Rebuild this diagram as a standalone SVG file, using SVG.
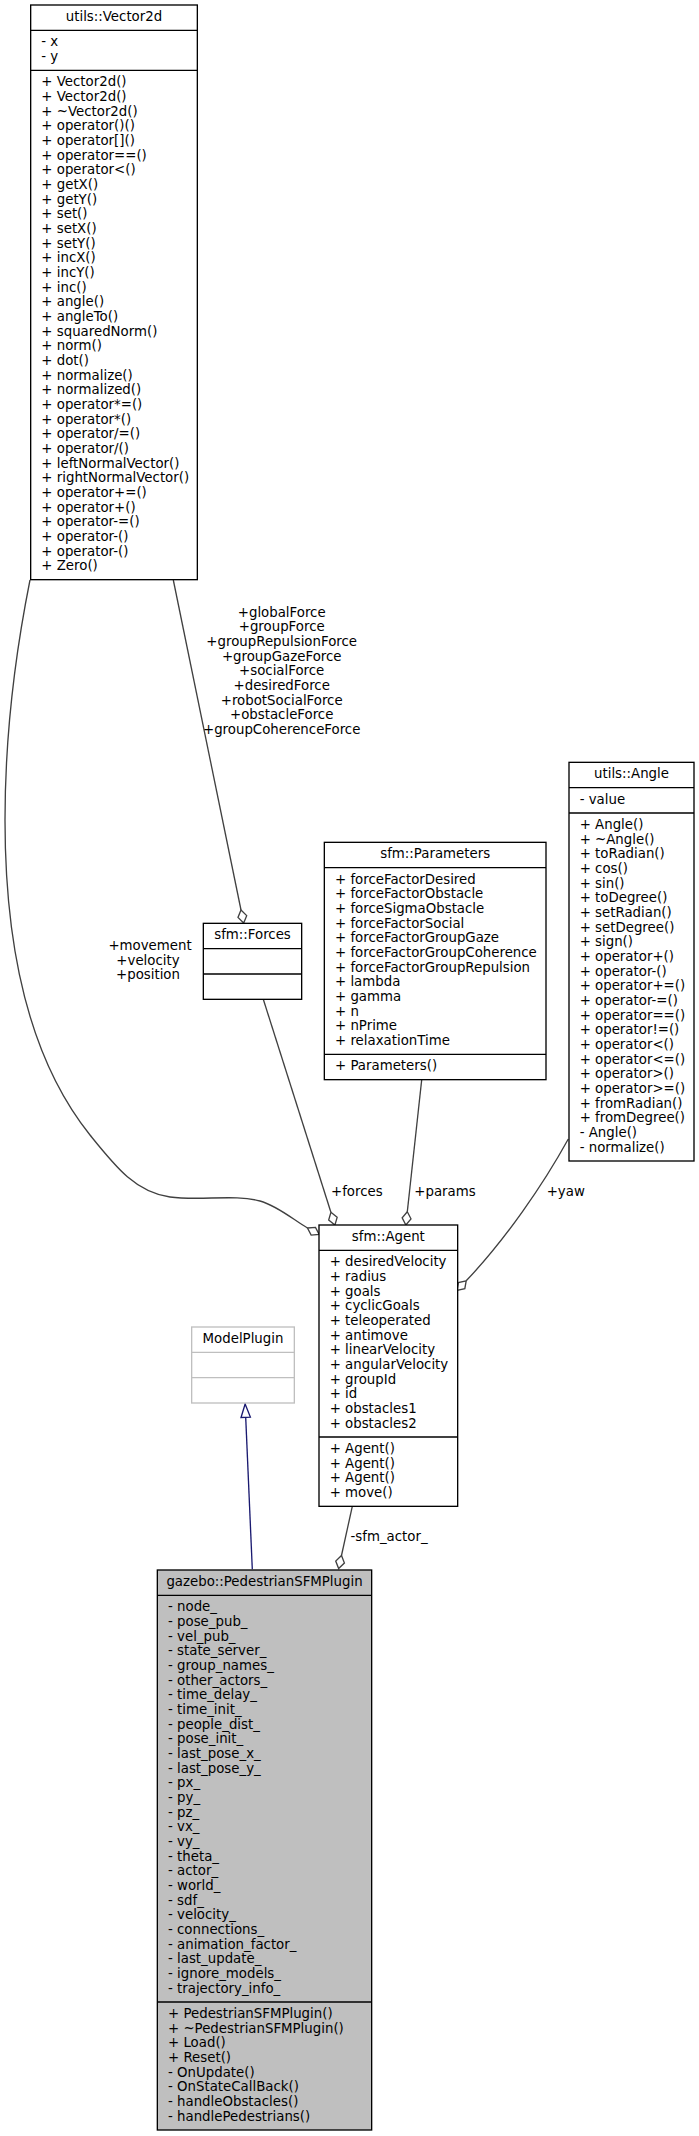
<svg xmlns="http://www.w3.org/2000/svg" width="699" height="2136" viewBox="0 0 699 2136">
<defs>
<style>
text{font-family:"DejaVu Sans","Liberation Sans",sans-serif;font-size:13.33px;fill:#000}
.t{text-anchor:middle}
.l{text-anchor:middle}
.box{fill:#fff;stroke:#000;stroke-width:1.33}
.gbox{fill:#fff;stroke:#bfbfbf;stroke-width:1.33}
.fbox{fill:#bfbfbf;stroke:#000;stroke-width:1.33}
.sep{stroke:#000;stroke-width:1.33}
.gsep{stroke:#bfbfbf;stroke-width:1.33}
.e{fill:none;stroke:#404040;stroke-width:1.33;marker-end:url(#od)}
.inh{fill:none;stroke:#191970;stroke-width:1.33;marker-end:url(#tri)}
</style>
<marker id="od" markerUnits="userSpaceOnUse" markerWidth="20" markerHeight="20" refX="0" refY="0" orient="auto" overflow="visible">
<path d="M0,0 L6.67,-4.44 L13.33,0 L6.67,4.44 Z" fill="#fff" stroke="#404040" stroke-width="1.33"/>
</marker>
<marker id="tri" markerUnits="userSpaceOnUse" markerWidth="20" markerHeight="20" refX="0" refY="0" orient="auto" overflow="visible">
<path d="M0,-4.67 L13.33,0 L0,4.67 Z" fill="#fff" stroke="#191970" stroke-width="1.33"/>
</marker>
</defs>
<rect width="699" height="2136" fill="#fff"/>

<g id="connectors">
<path class="e" d="M173.3,580 L241,910"/>
<path class="e" d="M263.3,999.3 L330.9,1212.3"/>
<path class="e" d="M421.7,1079.7 L407.3,1211.7"/>
<path class="e" d="M30,580 C18,640 5,720 5,820 C5,950 30,1060 90,1135 C115,1166 135,1192 170,1197 C200,1201 235,1194 260,1201 C278,1206 295,1221 307.5,1228"/>
<path class="e" d="M568.3,1139 C543,1185 505,1240 466.2,1280.8"/>
<path class="e" d="M352.3,1506.3 L341.5,1555.5"/>
<path class="inh" d="M252.3,1569.3 L245.7,1417.3"/>
<text class="l" x="281.7"><tspan x="281.7" y="616.7">+globalForce</tspan><tspan x="281.7" dy="14.67">+groupForce</tspan><tspan x="281.7" dy="14.67">+groupRepulsionForce</tspan><tspan x="281.7" dy="14.67">+groupGazeForce</tspan><tspan x="281.7" dy="14.67">+socialForce</tspan><tspan x="281.7" dy="14.67">+desiredForce</tspan><tspan x="281.7" dy="14.67">+robotSocialForce</tspan><tspan x="281.7" dy="14.67">+obstacleForce</tspan><tspan x="281.7" dy="14.67">+groupCoherenceForce</tspan></text>
<text class="l"><tspan x="150" y="950">+movement</tspan><tspan x="148" dy="14.67">+velocity</tspan><tspan x="148" dy="14.67">+position</tspan></text>
<text x="331" y="1196">+forces</text>
<text x="414.3" y="1196">+params</text>
<text x="546.7" y="1196">+yaw</text>
<text x="350.5" y="1540.5">-sfm_actor_</text>
</g>

<g id="node-vector2d">
<rect class="box" x="30.67" y="5" width="166.67" height="574.67"/>
<line class="sep" x1="30.67" y1="30.33" x2="197.33" y2="30.33"/>
<line class="sep" x1="30.67" y1="70.33" x2="197.33" y2="70.33"/>
<text class="t" x="114" y="21">utils::Vector2d</text>
<text><tspan x="41.33" y="46.33">- x</tspan><tspan x="41.33" dy="14.67">- y</tspan></text>
<text><tspan x="41.33" y="86.33">+ Vector2d()</tspan><tspan x="41.33" dy="14.67">+ Vector2d()</tspan><tspan x="41.33" dy="14.67">+ ~Vector2d()</tspan><tspan x="41.33" dy="14.67">+ operator()()</tspan><tspan x="41.33" dy="14.67">+ operator[]()</tspan><tspan x="41.33" dy="14.67">+ operator==()</tspan><tspan x="41.33" dy="14.67">+ operator&lt;()</tspan><tspan x="41.33" dy="14.67">+ getX()</tspan><tspan x="41.33" dy="14.67">+ getY()</tspan><tspan x="41.33" dy="14.67">+ set()</tspan><tspan x="41.33" dy="14.67">+ setX()</tspan><tspan x="41.33" dy="14.67">+ setY()</tspan><tspan x="41.33" dy="14.67">+ incX()</tspan><tspan x="41.33" dy="14.67">+ incY()</tspan><tspan x="41.33" dy="14.67">+ inc()</tspan><tspan x="41.33" dy="14.67">+ angle()</tspan><tspan x="41.33" dy="14.67">+ angleTo()</tspan><tspan x="41.33" dy="14.67">+ squaredNorm()</tspan><tspan x="41.33" dy="14.67">+ norm()</tspan><tspan x="41.33" dy="14.67">+ dot()</tspan><tspan x="41.33" dy="14.67">+ normalize()</tspan><tspan x="41.33" dy="14.67">+ normalized()</tspan><tspan x="41.33" dy="14.67">+ operator*=()</tspan><tspan x="41.33" dy="14.67">+ operator*()</tspan><tspan x="41.33" dy="14.67">+ operator/=()</tspan><tspan x="41.33" dy="14.67">+ operator/()</tspan><tspan x="41.33" dy="14.67">+ leftNormalVector()</tspan><tspan x="41.33" dy="14.67">+ rightNormalVector()</tspan><tspan x="41.33" dy="14.67">+ operator+=()</tspan><tspan x="41.33" dy="14.67">+ operator+()</tspan><tspan x="41.33" dy="14.67">+ operator-=()</tspan><tspan x="41.33" dy="14.67">+ operator-()</tspan><tspan x="41.33" dy="14.67">+ operator-()</tspan><tspan x="41.33" dy="14.67">+ Zero()</tspan></text>
</g>

<g id="node-forces">
<rect class="box" x="203.33" y="923.33" width="98.33" height="76"/>
<line class="sep" x1="203.33" y1="948.67" x2="301.67" y2="948.67"/>
<line class="sep" x1="203.33" y1="974" x2="301.67" y2="974"/>
<text class="t" x="252.5" y="939.33">sfm::Forces</text>
</g>

<g id="node-parameters">
<rect class="box" x="324.33" y="842.33" width="221.67" height="237.33"/>
<line class="sep" x1="324.33" y1="867.67" x2="546" y2="867.67"/>
<line class="sep" x1="324.33" y1="1054.33" x2="546" y2="1054.33"/>
<text class="t" x="435.17" y="858.33">sfm::Parameters</text>
<text><tspan x="335" y="883.67">+ forceFactorDesired</tspan><tspan x="335" dy="14.67">+ forceFactorObstacle</tspan><tspan x="335" dy="14.67">+ forceSigmaObstacle</tspan><tspan x="335" dy="14.67">+ forceFactorSocial</tspan><tspan x="335" dy="14.67">+ forceFactorGroupGaze</tspan><tspan x="335" dy="14.67">+ forceFactorGroupCoherence</tspan><tspan x="335" dy="14.67">+ forceFactorGroupRepulsion</tspan><tspan x="335" dy="14.67">+ lambda</tspan><tspan x="335" dy="14.67">+ gamma</tspan><tspan x="335" dy="14.67">+ n</tspan><tspan x="335" dy="14.67">+ nPrime</tspan><tspan x="335" dy="14.67">+ relaxationTime</tspan></text>
<text x="335" y="1070.33">+ Parameters()</text>
</g>

<g id="node-angle">
<rect class="box" x="569" y="762.33" width="125" height="398.67"/>
<line class="sep" x1="569" y1="787.67" x2="694" y2="787.67"/>
<line class="sep" x1="569" y1="813" x2="694" y2="813"/>
<text class="t" x="631.5" y="778.33">utils::Angle</text>
<text x="579.67" y="803.67">- value</text>
<text><tspan x="579.67" y="829">+ Angle()</tspan><tspan x="579.67" dy="14.67">+ ~Angle()</tspan><tspan x="579.67" dy="14.67">+ toRadian()</tspan><tspan x="579.67" dy="14.67">+ cos()</tspan><tspan x="579.67" dy="14.67">+ sin()</tspan><tspan x="579.67" dy="14.67">+ toDegree()</tspan><tspan x="579.67" dy="14.67">+ setRadian()</tspan><tspan x="579.67" dy="14.67">+ setDegree()</tspan><tspan x="579.67" dy="14.67">+ sign()</tspan><tspan x="579.67" dy="14.67">+ operator+()</tspan><tspan x="579.67" dy="14.67">+ operator-()</tspan><tspan x="579.67" dy="14.67">+ operator+=()</tspan><tspan x="579.67" dy="14.67">+ operator-=()</tspan><tspan x="579.67" dy="14.67">+ operator==()</tspan><tspan x="579.67" dy="14.67">+ operator!=()</tspan><tspan x="579.67" dy="14.67">+ operator&lt;()</tspan><tspan x="579.67" dy="14.67">+ operator&lt;=()</tspan><tspan x="579.67" dy="14.67">+ operator&gt;()</tspan><tspan x="579.67" dy="14.67">+ operator&gt;=()</tspan><tspan x="579.67" dy="14.67">+ fromRadian()</tspan><tspan x="579.67" dy="14.67">+ fromDegree()</tspan><tspan x="579.67" dy="14.67">- Angle()</tspan><tspan x="579.67" dy="14.67">- normalize()</tspan></text>
</g>

<g id="node-agent">
<rect class="box" x="319" y="1225" width="138.67" height="281.33"/>
<line class="sep" x1="319" y1="1250.33" x2="457.67" y2="1250.33"/>
<line class="sep" x1="319" y1="1437" x2="457.67" y2="1437"/>
<text class="t" x="388.33" y="1241">sfm::Agent</text>
<text><tspan x="329.67" y="1266.33">+ desiredVelocity</tspan><tspan x="329.67" dy="14.67">+ radius</tspan><tspan x="329.67" dy="14.67">+ goals</tspan><tspan x="329.67" dy="14.67">+ cyclicGoals</tspan><tspan x="329.67" dy="14.67">+ teleoperated</tspan><tspan x="329.67" dy="14.67">+ antimove</tspan><tspan x="329.67" dy="14.67">+ linearVelocity</tspan><tspan x="329.67" dy="14.67">+ angularVelocity</tspan><tspan x="329.67" dy="14.67">+ groupId</tspan><tspan x="329.67" dy="14.67">+ id</tspan><tspan x="329.67" dy="14.67">+ obstacles1</tspan><tspan x="329.67" dy="14.67">+ obstacles2</tspan></text>
<text><tspan x="329.67" y="1453">+ Agent()</tspan><tspan x="329.67" dy="14.67">+ Agent()</tspan><tspan x="329.67" dy="14.67">+ Agent()</tspan><tspan x="329.67" dy="14.67">+ move()</tspan></text>
</g>

<g id="node-modelplugin">
<rect class="gbox" x="191.67" y="1327" width="102.67" height="76"/>
<line class="gsep" x1="191.67" y1="1352.33" x2="294.33" y2="1352.33"/>
<line class="gsep" x1="191.67" y1="1377.67" x2="294.33" y2="1377.67"/>
<text class="t" x="243" y="1343">ModelPlugin</text>
</g>

<g id="node-pedestriansfmplugin">
<rect class="fbox" x="157.33" y="1570" width="214.33" height="560"/>
<line class="sep" x1="157.33" y1="1595.33" x2="371.67" y2="1595.33"/>
<line class="sep" x1="157.33" y1="2002" x2="371.67" y2="2002"/>
<text class="t" x="264.5" y="1586">gazebo::PedestrianSFMPlugin</text>
<text><tspan x="168" y="1611.33">- node_</tspan><tspan x="168" dy="14.67">- pose_pub_</tspan><tspan x="168" dy="14.67">- vel_pub_</tspan><tspan x="168" dy="14.67">- state_server_</tspan><tspan x="168" dy="14.67">- group_names_</tspan><tspan x="168" dy="14.67">- other_actors_</tspan><tspan x="168" dy="14.67">- time_delay_</tspan><tspan x="168" dy="14.67">- time_init_</tspan><tspan x="168" dy="14.67">- people_dist_</tspan><tspan x="168" dy="14.67">- pose_init_</tspan><tspan x="168" dy="14.67">- last_pose_x_</tspan><tspan x="168" dy="14.67">- last_pose_y_</tspan><tspan x="168" dy="14.67">- px_</tspan><tspan x="168" dy="14.67">- py_</tspan><tspan x="168" dy="14.67">- pz_</tspan><tspan x="168" dy="14.67">- vx_</tspan><tspan x="168" dy="14.67">- vy_</tspan><tspan x="168" dy="14.67">- theta_</tspan><tspan x="168" dy="14.67">- actor_</tspan><tspan x="168" dy="14.67">- world_</tspan><tspan x="168" dy="14.67">- sdf_</tspan><tspan x="168" dy="14.67">- velocity_</tspan><tspan x="168" dy="14.67">- connections_</tspan><tspan x="168" dy="14.67">- animation_factor_</tspan><tspan x="168" dy="14.67">- last_update_</tspan><tspan x="168" dy="14.67">- ignore_models_</tspan><tspan x="168" dy="14.67">- trajectory_info_</tspan></text>
<text><tspan x="168" y="2018">+ PedestrianSFMPlugin()</tspan><tspan x="168" dy="14.67">+ ~PedestrianSFMPlugin()</tspan><tspan x="168" dy="14.67">+ Load()</tspan><tspan x="168" dy="14.67">+ Reset()</tspan><tspan x="168" dy="14.67">- OnUpdate()</tspan><tspan x="168" dy="14.67">- OnStateCallBack()</tspan><tspan x="168" dy="14.67">- handleObstacles()</tspan><tspan x="168" dy="14.67">- handlePedestrians()</tspan></text>
</g>
</svg>
